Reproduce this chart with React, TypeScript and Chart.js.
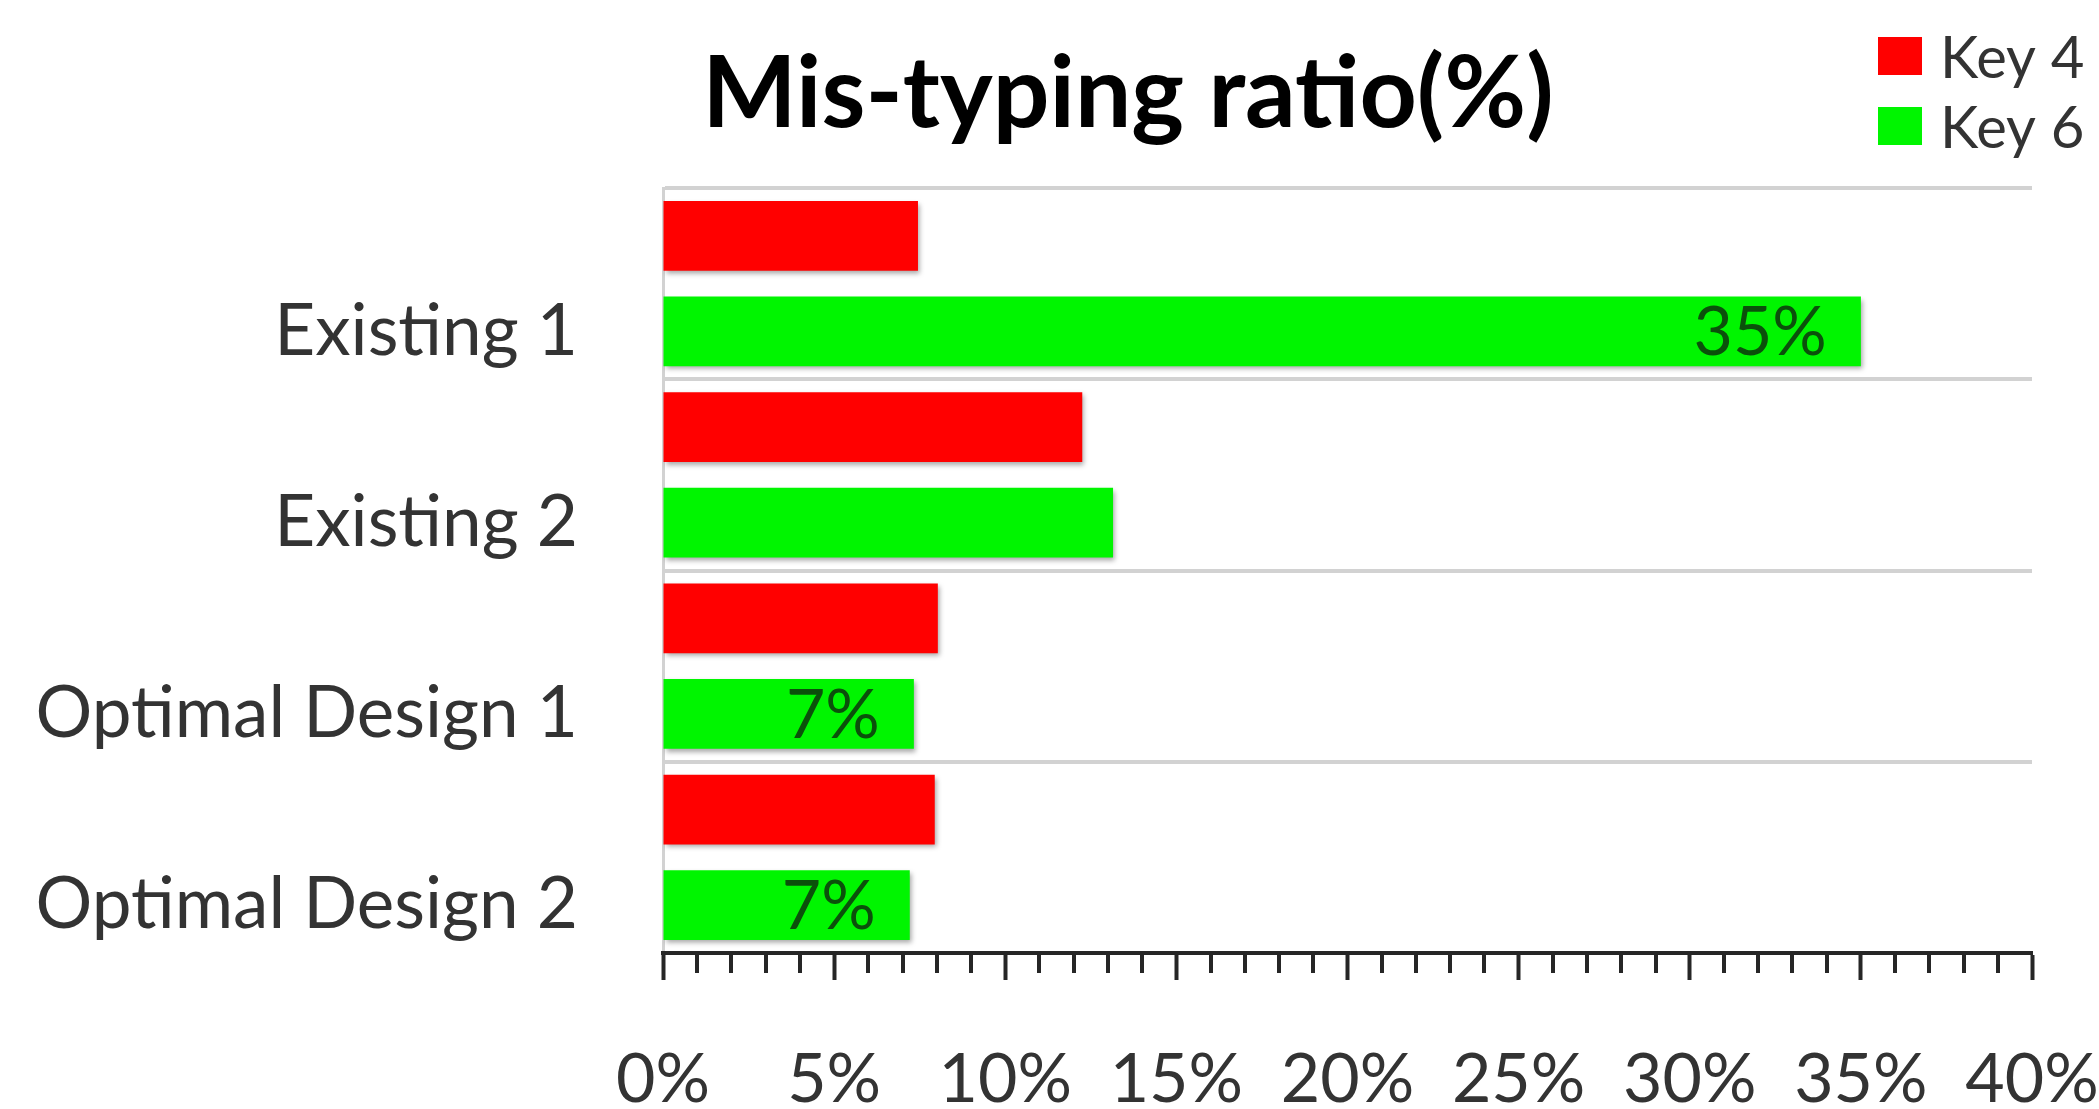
import React, { useEffect, useRef } from "react";
import { Chart, registerables } from "chart.js";

Chart.register(...registerables);

// Mis-typing ratio per keyboard design, in percent
const titleText = "Mis-typing ratio(%)";
const categories = ["Existing 1", "Existing 2", "Optimal Design 1", "Optimal Design 2"];
const seriesNames = ["Key 4", "Key 6"];
const key4Values = [7.45, 12.25, 8.03, 7.94];
const key6Values = [35, 13.15, 7.33, 7.21];
// which Key 6 bars carry a value label
const key6Labelled = [true, false, true, true];
const seriesColors = ["#ff0000", "#00f500"];
const xMin = 0;
const xMax = 40;
const xMajorStep = 5;
const xMinorStep = 1;

const W = 2099;
const H = 1109;
const FONT = "Lato, 'Open Sans', sans-serif";

export default function App() {
  const ref = useRef<HTMLCanvasElement>(null);

  useEffect(() => {
    const canvas = ref.current;
    if (!canvas) return;

    const barShadow = {
      id: "barShadow",
      beforeDatasetsDraw(chart: any) {
        const c = chart.ctx;
        c.save();
        c.shadowColor = "rgba(0,0,0,0.35)";
        c.shadowBlur = 5;
        c.shadowOffsetX = 2;
        c.shadowOffsetY = 3;
      },
      afterDatasetsDraw(chart: any) {
        chart.ctx.restore();
      },
    };

    const valueLabels = {
      id: "valueLabels",
      afterDatasetsDraw(chart: any) {
        const c = chart.ctx;
        const meta = chart.getDatasetMeta(1);
        c.save();
        c.shadowColor = "transparent";
        c.font = `68px ${FONT}`;
        c.fillStyle = "#0b500b";
        c.textAlign = "right";
        c.textBaseline = "middle";
        meta.data.forEach((bar: any, i: number) => {
          if (!key6Labelled[i]) return;
          const v = key6Values[i];
          c.fillText(`${Math.round(v)}%`, bar.x - 34, bar.y + 2);
        });
        c.restore();
      },
    };

    const decorations = {
      id: "decorations",
      afterDraw(chart: any) {
        const c = chart.ctx;
        const xs = chart.scales.x;
        c.save();
        // minor tick marks every 1%
        c.strokeStyle = "#262626";
        c.lineWidth = 4;
        for (let v = xMin; v <= xMax; v += xMinorStep) {
          if (v % xMajorStep === 0) continue;
          const px = Math.round(xs.getPixelForValue(v));
          c.beginPath();
          c.moveTo(px, xs.top);
          c.lineTo(px, xs.top + 20);
          c.stroke();
        }
        // title
        c.fillStyle = "#000";
        c.font = `bold 100px ${FONT}`;
        c.textAlign = "center";
        c.textBaseline = "alphabetic";
        c.fillText(titleText, 1128, 127);
        // legend
        c.font = `58px ${FONT}`;
        c.textAlign = "left";
        chart.data.datasets.forEach((ds: any, i: number) => {
          const top = 37 + i * 70;
          c.fillStyle = ds.backgroundColor;
          c.fillRect(1878, top, 44, 38);
          c.fillStyle = "#333";
          c.fillText(ds.label, 1940, top + 41);
        });
        c.restore();
      },
    };

    const chart = new Chart(canvas, {
      type: "bar",
      data: {
        labels: categories,
        datasets: [
          {
            label: seriesNames[0],
            data: key4Values,
            backgroundColor: seriesColors[0],
            barPercentage: 0.73,
            categoryPercentage: 1.0,
          },
          {
            label: seriesNames[1],
            data: key6Values,
            backgroundColor: seriesColors[1],
            barPercentage: 0.73,
            categoryPercentage: 1.0,
          },
        ],
      },
      options: {
        indexAxis: "y",
        responsive: false,
        maintainAspectRatio: false,
        devicePixelRatio: 1,
        animation: false,
        layout: { padding: { top: 188, right: 67, left: 0, bottom: 0 } },
        plugins: {
          legend: { display: false },
          title: { display: false },
          tooltip: { enabled: false },
        },
        scales: {
          x: {
            type: "linear",
            position: "bottom",
            min: xMin,
            max: xMax,
            ticks: {
              stepSize: xMajorStep,
              autoSkip: false,
              maxRotation: 0,
              callback: (v: any) => `${v}%`,
              font: { family: FONT, size: 68 },
              color: "#333",
              padding: 59,
            },
            grid: {
              drawOnChartArea: false,
              drawTicks: true,
              tickLength: 27,
              tickWidth: 4,
              tickColor: "#262626",
              z: 1,
            },
            border: { display: true, color: "#262626", width: 4, z: 1 },
            afterFit: (s: any) => {
              s.height = 156;
              s.paddingLeft = 0;
              s.paddingRight = 0;
            },
          },
          y: {
            type: "category",
            ticks: {
              font: { family: FONT, size: 71 },
              color: "#333",
              padding: 85,
              labelOffset: 48,
            },
            grid: {
              color: "#d2d2d2",
              lineWidth: 4,
              drawTicks: false,
              offset: true,
            },
            border: { display: true, color: "#d2d2d2", width: 3 },
            afterFit: (s: any) => {
              s.width = 663;
            },
          },
        },
      },
      plugins: [barShadow, valueLabels, decorations],
    } as any);

    return () => chart.destroy();
  }, []);

  return (
    <div style={{ position: "fixed", left: 0, top: 0, width: W, height: H, background: "#fff" }}>
      <canvas ref={ref} width={W} height={H} style={{ display: "block" }} />
    </div>
  );
}
